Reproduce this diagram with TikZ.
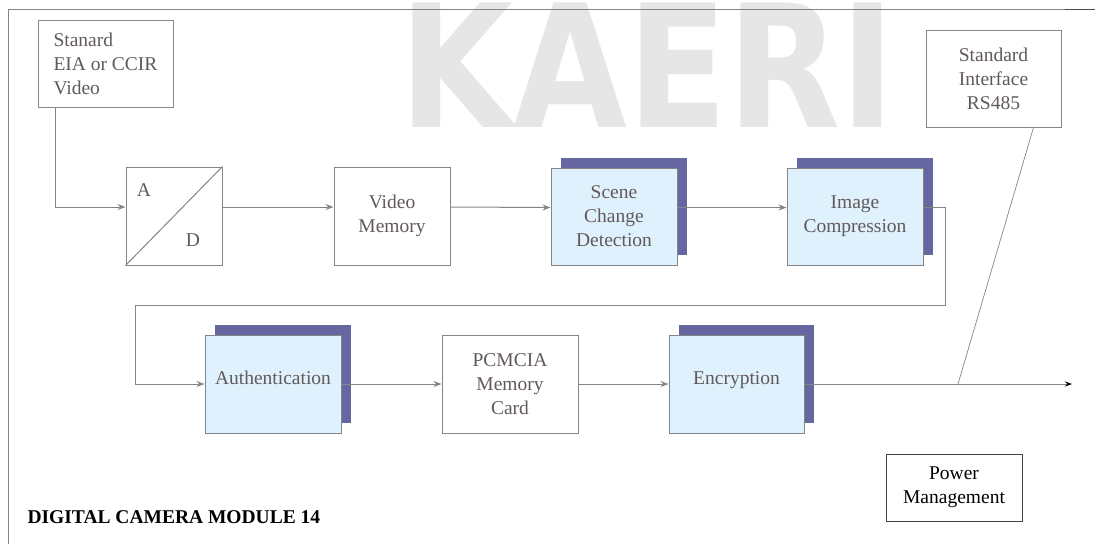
\documentclass[tikz,border=0pt]{standalone}
\usepackage{fontspec}
\setmainfont{Liberation Serif}
\newfontfamily\markfont{DejaVu Sans}
\usetikzlibrary{arrows.meta,shadows}
\definecolor{linegray}{HTML}{858585}
\definecolor{textgray}{HTML}{625A5A}
\definecolor{procblue}{HTML}{DFF1FD}
\definecolor{shadowblue}{HTML}{6666A0}
\definecolor{markgray}{HTML}{E6E6E6}
\tikzset{
  block/.style  = {shape=rectangle, draw=linegray, line width=1pt,
                   text=textgray, align=center, inner sep=2pt,
                   minimum width=136pt, minimum height=98pt},
  plain/.style  = {block, fill=white},
  proc/.style   = {block, fill=procblue,
                   drop shadow={shadow xshift=10pt, shadow yshift=10pt,
                                fill=shadowblue, opacity=1}},
  power/.style  = {block, draw=black!75, text=black, minimum height=67pt},
  conn/.style   = {draw=linegray, line width=1pt,
                   -{Stealth[length=8pt, width=6pt, linegray]}},
  tapline/.style= {draw=linegray, line width=0.7pt},
  frame/.style  = {draw=linegray, line width=1pt}
}
\begin{document}
\begin{tikzpicture}
  [
    x                 = 1pt,
    y                 = -1pt,
    every node/.style = {font=\fontsize{19.5}{24}\selectfont}
  ]
  \clip (0,0) rectangle (1095,544);
  \node [text=markgray, anchor=base, xscale=0.86, inner sep=0pt,
         text height=124pt, text depth=0pt,
         font=\markfont\bfseries\fontsize{171}{171}\selectfont]
        (mark) at (647.5,127) {KAERI};
  \draw [frame] (1065,9) -- (8,9) -- (8,544);
  \draw [frame, draw=black!70] (1065,9) -- (1095,9);

  \node [plain, align=left, minimum width=135pt, minimum height=87pt]
        (src) at (105.5,63.5) {Stanard\\EIA or CCIR\\Video};
  \node [plain, minimum width=96pt] (ad) at (174,216) {};
  \draw [linegray, line width=1pt] (ad.south west) -- (ad.north east);
  \node [text=textgray] (adA) at (144,190) {A};
  \node [text=textgray] (adD) at (193,240) {D};
  \node [plain, minimum width=116pt] (vm) at (392,216) {Video\\Memory};
  \node [proc, minimum width=126pt, minimum height=97pt]
        (scd) at (614,216.5) {Scene\\Change\\Detection};
  \node [proc, minimum height=97pt] (ic) at (855,216.5) {Image\\Compression};
  \node [plain, minimum width=135pt, minimum height=97pt]
        (rs) at (993.5,78.5) {Standard\\Interface\\RS485};

  \node [proc] (auth) at (273,384) {Authentication\\[-12pt]};
  \node [plain] (pcm) at (510,384) {PCMCIA\\Memory\\Card};
  \node [proc, minimum width=135pt] (enc) at (736.5,384) {Encryption\\[-12pt]};

  \node [power] (pwr) at (954,487.5) {Power\\Management};
  \node [anchor=west, font=\fontsize{19.5}{20}\selectfont\bfseries]
        (title) at (24,517) {DIGITAL CAMERA MODULE 14};

  \coordinate (turnR) at (945,305);
  \coordinate (turnL) at (135,305);
  \coordinate (tap)   at (958,384);
  \coordinate (out)   at (1072,384);

  \draw [conn] ([xshift=18pt]src.south west) |- ([yshift=9pt]ad.west);
  \draw [conn] ([yshift=9pt]ad.east) -- ([yshift=9pt]vm.west);
  \draw [conn] ([yshift=9pt]vm.east) -- ([yshift=9pt]scd.west);
  \draw [conn] ([yshift=9pt]scd.east) -- ([yshift=9pt]ic.west);
  \draw [conn] ([yshift=9pt]ic.east) -| (turnR) -- (turnL) |- (auth.west);
  \draw [conn] (auth.east) -- (pcm.west);
  \draw [conn] (pcm.east) -- (enc.west);
  \draw [conn, -{Stealth[length=7pt, width=5pt, black]}] (enc.east) -- (out);
  \draw [tapline] ([xshift=40pt]rs.south) -- (tap);
\end{tikzpicture}
\end{document}
